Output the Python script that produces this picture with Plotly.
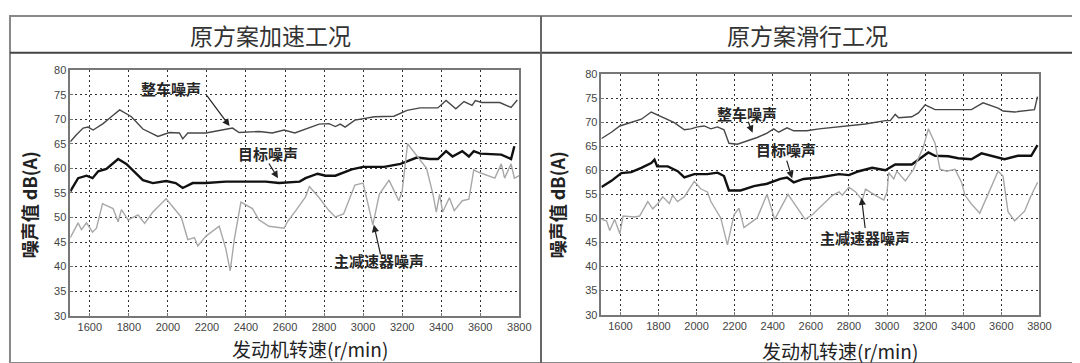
import plotly.graph_objects as go

# ---------------- data ----------------
acc_total_rpm = [1500, 1530, 1566, 1591, 1617, 1668, 1710, 1753, 1813, 1872, 1949, 2008, 2059, 2076, 2102, 2195, 2263, 2331, 2365, 2467, 2535, 2595, 2650, 2708, 2775, 2825, 2858, 2883, 2908, 2958, 3008, 3058, 3158, 3225, 3292, 3383, 3425, 3475, 3517, 3558, 3575, 3608, 3700, 3758, 3790]
acc_total_db = [65.4, 66.8, 68.2, 68.4, 67.8, 69.1, 70.5, 71.9, 70.5, 68.0, 66.5, 67.3, 67.2, 66.0, 67.2, 67.2, 67.7, 68.2, 67.3, 67.5, 67.2, 67.8, 67.2, 68.0, 69.0, 69.1, 68.5, 69.0, 68.4, 69.8, 70.1, 70.5, 70.6, 71.8, 72.3, 72.3, 73.8, 72.1, 73.6, 72.8, 73.8, 73.4, 73.4, 72.4, 73.9]

acc_target_rpm = [1500, 1540, 1583, 1614, 1643, 1685, 1745, 1787, 1872, 1923, 1991, 2040, 2076, 2127, 2195, 2297, 2399, 2501, 2569, 2640, 2675, 2705, 2767, 2808, 2858, 2942, 3000, 3108, 3192, 3275, 3342, 3383, 3425, 3458, 3508, 3542, 3567, 3600, 3708, 3758, 3775]
acc_target_db = [55.3, 58.0, 58.5, 58.0, 59.4, 59.9, 61.9, 60.9, 57.6, 57.0, 57.4, 57.0, 56.0, 57.0, 57.0, 57.3, 57.3, 57.3, 57.0, 57.3, 57.3, 58.0, 58.9, 58.5, 58.5, 59.8, 60.3, 60.3, 60.9, 62.2, 61.9, 61.9, 63.5, 62.4, 63.5, 62.4, 63.5, 63.0, 62.8, 61.9, 64.5]

acc_drive_rpm = [1500, 1523, 1540, 1557, 1583, 1614, 1634, 1665, 1719, 1745, 1762, 1796, 1847, 1881, 1923, 1991, 2068, 2102, 2136, 2153, 2195, 2263, 2297, 2319, 2340, 2374, 2433, 2467, 2518, 2595, 2612, 2655, 2705, 2725, 2775, 2825, 2858, 2900, 2958, 3000, 3050, 3083, 3133, 3183, 3200, 3228, 3275, 3325, 3358, 3375, 3392, 3408, 3442, 3467, 3508, 3542, 3567, 3592, 3675, 3708, 3725, 3758, 3775, 3800]
acc_drive_db = [45.9, 47.8, 48.9, 47.5, 48.9, 47.0, 47.8, 52.8, 51.8, 49.1, 51.6, 49.5, 50.5, 48.8, 51.1, 53.8, 50.1, 45.5, 45.9, 44.2, 46.2, 48.2, 43.6, 39.1, 45.5, 53.1, 51.8, 49.5, 48.2, 47.8, 49.1, 51.4, 54.2, 56.3, 54.0, 51.4, 50.1, 50.7, 56.6, 57.0, 48.5, 54.7, 57.6, 53.4, 55.3, 65.0, 62.6, 60.0, 54.7, 51.1, 54.7, 51.1, 54.0, 51.4, 53.4, 53.7, 59.7, 59.2, 58.0, 60.9, 58.0, 60.9, 58.0, 58.5]

coast_total_rpm = [1501, 1553, 1597, 1657, 1710, 1762, 1805, 1883, 1936, 1970, 2005, 2040, 2075, 2110, 2144, 2170, 2214, 2266, 2318, 2370, 2405, 2431, 2475, 2510, 2579, 2643, 2748, 2887, 2991, 3017, 3043, 3061, 3130, 3165, 3200, 3252, 3339, 3443, 3504, 3583, 3609, 3670, 3774, 3790]
coast_total_db = [66.6, 67.9, 69.2, 69.9, 70.6, 72.1, 71.3, 69.9, 68.4, 68.6, 69.0, 69.2, 68.6, 69.0, 68.4, 65.6, 65.4, 66.1, 66.8, 67.7, 68.6, 67.9, 68.8, 68.2, 68.2, 68.6, 69.0, 69.6, 70.3, 70.3, 71.6, 70.9, 71.1, 71.9, 73.6, 72.6, 72.6, 72.6, 74.0, 72.9, 72.3, 72.1, 72.6, 75.3]

coast_target_rpm = [1501, 1553, 1605, 1657, 1710, 1762, 1779, 1793, 1849, 1901, 1936, 1988, 2057, 2110, 2144, 2170, 2231, 2301, 2370, 2440, 2475, 2510, 2562, 2643, 2748, 2800, 2852, 2922, 2991, 3043, 3130, 3165, 3217, 3252, 3322, 3374, 3443, 3496, 3548, 3617, 3687, 3757, 3790]
coast_target_db = [56.5, 57.8, 59.4, 59.6, 60.5, 61.5, 62.2, 60.8, 60.8, 59.8, 58.5, 59.2, 59.2, 59.5, 58.8, 55.8, 55.8, 56.7, 57.2, 58.2, 58.5, 57.5, 58.2, 58.5, 59.2, 59.0, 59.8, 60.5, 60.0, 61.2, 61.2, 62.2, 63.7, 63.0, 62.9, 62.5, 62.3, 63.5, 63.0, 62.3, 63.0, 63.0, 65.2]

coast_drive_rpm = [1501, 1527, 1544, 1570, 1597, 1614, 1675, 1701, 1744, 1770, 1797, 1823, 1857, 1875, 1900, 1936, 1988, 2023, 2057, 2075, 2127, 2162, 2197, 2223, 2249, 2318, 2370, 2410, 2480, 2570, 2609, 2713, 2748, 2765, 2800, 2835, 2870, 2887, 2939, 2983, 3000, 3009, 3035, 3052, 3096, 3139, 3191, 3217, 3252, 3278, 3313, 3357, 3391, 3409, 3443, 3487, 3583, 3609, 3635, 3670, 3722, 3757, 3791]
coast_drive_db = [49.8, 49.5, 47.5, 49.8, 46.8, 50.5, 50.3, 50.5, 53.5, 52.0, 53.1, 54.5, 53.1, 54.8, 53.5, 54.5, 57.7, 56.1, 55.5, 53.5, 50.1, 44.5, 50.8, 52.1, 48.1, 50.1, 55.0, 49.8, 55.0, 49.8, 50.8, 54.8, 55.5, 54.8, 56.5, 55.5, 53.8, 56.1, 54.8, 53.8, 55.5, 59.5, 58.2, 59.8, 57.8, 60.2, 64.9, 68.6, 65.6, 60.2, 59.8, 60.2, 57.5, 54.8, 53.0, 51.1, 59.8, 58.8, 51.4, 49.5, 51.5, 54.8, 57.5]

panel_titles = ["原方案加速工况", "原方案滑行工况"]
series_names = ["整车噪声", "目标噪声", "主减速器噪声"]
x_title = "发动机转速(r/min)"
y_title = "噪声值 dB(A)"
x_ticks = list(range(1600, 3801, 200))
y_ticks = list(range(30, 81, 5))

# annotation anchors (text pos, arrow tail, arrow head) per panel
acc_labels = [((2017, 76.3), (2194, 75.1), (2316, 68.6)),
              ((2513, 63.1), (2513, 61.3), (2564, 58.0)),
              ((3081, 41.2), (3091, 42.2), (3055, 48.5))]
coast_labels = [((2263, 71.8), (2268, 70.4), (2294, 67.8)),
                ((2471, 64.3), (2471, 62.3), (2502, 58.3)),
                ((2886, 46.1), (2886, 47.7), (2866, 54.3))]

# ---------------- figure ----------------
W, H = 1080, 363
fig = go.Figure()

styles = [dict(color="#474747", width=1.4), dict(color="#111111", width=2.4), dict(color="#a8a8a8", width=1.4)]

panels = [
    ("x", "y", [(acc_total_rpm, acc_total_db), (acc_target_rpm, acc_target_db), (acc_drive_rpm, acc_drive_db)]),
    ("x2", "y2", [(coast_total_rpm, coast_total_db), (coast_target_rpm, coast_target_db), (coast_drive_rpm, coast_drive_db)]),
]
for xa, ya, series in panels:
    for (xs, ys), st, nm in zip(series, styles, series_names):
        fig.add_trace(go.Scatter(x=xs, y=ys, mode="lines", line=st, name=nm,
                                 xaxis=xa, yaxis=ya, showlegend=False, hoverinfo="skip"))

def px_x(p):
    return p / W

def px_y(p):
    return 1 - p / H

axis_common = dict(showgrid=True, gridcolor="#333333", griddash="2px,3px", gridwidth=1.2,
                   showline=True, linecolor="#777777", linewidth=1.5, mirror=True,
                   ticks="inside", ticklen=3, tickcolor="#777777", zeroline=False,
                   tickfont=dict(family="Liberation Sans, Arial", size=11, color="#444444"))

fig.update_layout(
    width=W, height=H,
    margin=dict(l=0, r=0, t=0, b=0),
    paper_bgcolor="white", plot_bgcolor="white",
    xaxis=dict(domain=[px_x(63), px_x(517)], range=[1500, 3800], tickvals=x_ticks, anchor="y", **axis_common),
    yaxis=dict(domain=[px_y(312), px_y(58)], range=[30, 80], tickvals=y_ticks, anchor="x", **axis_common),
    xaxis2=dict(domain=[px_x(600), px_x(1043)], range=[1500, 3800], tickvals=x_ticks, anchor="y2", **axis_common),
    yaxis2=dict(domain=[px_y(311), px_y(62)], range=[30, 80], tickvals=y_ticks, anchor="x2", **axis_common),
)

ann = []
# panel titles
for cx, t in zip([265, 808], panel_titles):
    ann.append(dict(x=px_x(cx), y=px_y(22), xref="paper", yref="paper", text=t, showarrow=False,
                    font=dict(family="Noto Sans CJK SC", size=23, color="#333333"),
                    xanchor="center", yanchor="middle"))
# x titles
for cx, cy in [(305, 346), (841, 348)]:
    ann.append(dict(x=px_x(cx), y=px_y(cy), xref="paper", yref="paper", text=x_title, showarrow=False,
                    font=dict(family="Noto Sans CJK SC", size=19, color="#222222"),
                    xanchor="center", yanchor="middle"))
# y titles
for cx, cy in [(22, 197), (556, 197)]:
    ann.append(dict(x=px_x(cx), y=px_y(cy), xref="paper", yref="paper", text="<b>" + y_title + "</b>",
                    showarrow=False, textangle=-90,
                    font=dict(family="Noto Sans CJK SC", size=18, color="#222222"),
                    xanchor="center", yanchor="middle"))
# series labels + arrows
for (xr, yr), labels in [(("x", "y"), acc_labels), (("x2", "y2"), coast_labels)]:
    for nm, (tpos, tail, head) in zip(series_names, labels):
        ann.append(dict(x=tpos[0], y=tpos[1], xref=xr, yref=yr, text="<b>" + nm + "</b>", showarrow=False,
                        font=dict(family="Noto Sans CJK SC", size=15, color="#262626"),
                        xanchor="center", yanchor="middle"))
        ann.append(dict(x=head[0], y=head[1], xref=xr, yref=yr, ax=tail[0], ay=tail[1],
                        axref=xr, ayref=yr, text="", showarrow=True, arrowhead=2,
                        arrowsize=1.2, arrowwidth=1.2, arrowcolor="#222222", standoff=0))
fig.update_layout(annotations=ann)

# table-like borders
shapes = [
    dict(type="rect", xref="paper", yref="paper", x0=px_x(2), x1=px_x(1077), y0=px_y(361), y1=px_y(2),
         line=dict(color="#888888", width=2)),
    dict(type="line", xref="paper", yref="paper", x0=px_x(2), x1=px_x(1077), y0=px_y(40), y1=px_y(40),
         line=dict(color="#444444", width=2)),
    dict(type="line", xref="paper", yref="paper", x0=px_x(539), x1=px_x(539), y0=px_y(361), y1=px_y(2),
         line=dict(color="#666666", width=2)),
]
fig.update_layout(shapes=shapes)

fig.write_html("out.html")
